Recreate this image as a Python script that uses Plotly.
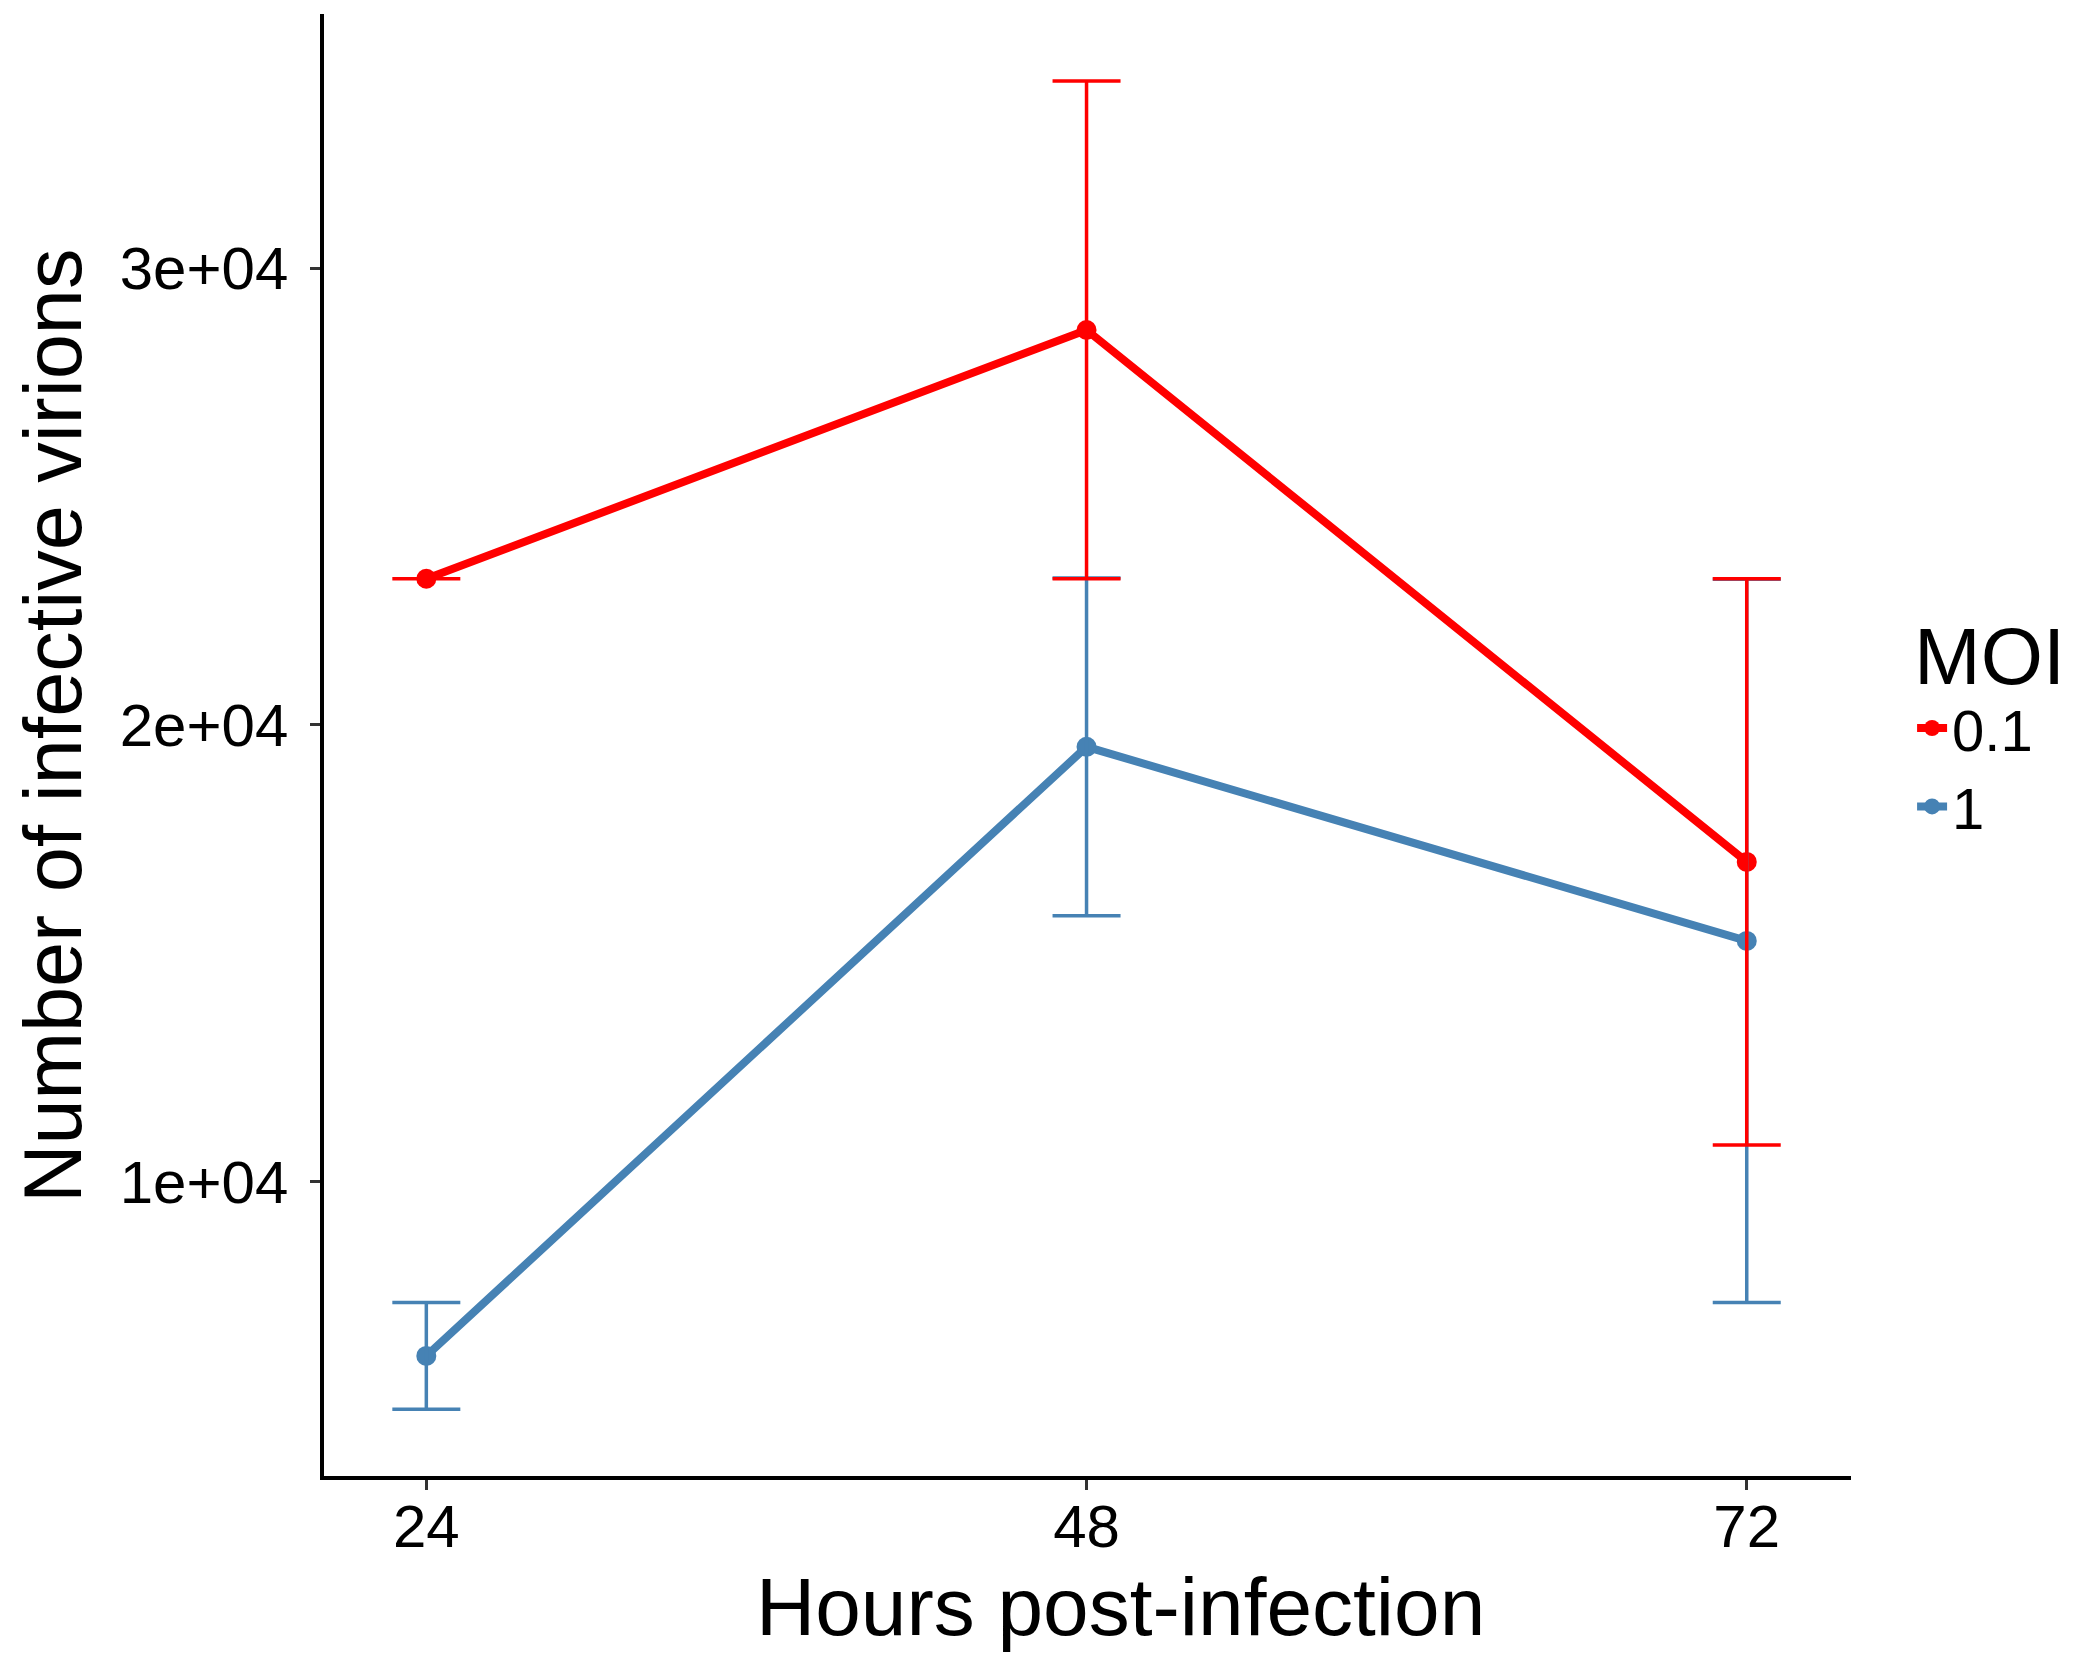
import plotly.graph_objects as go

hours = [24, 48, 72]
moi_levels = ["0.1", "1"]

# mean virions and error (half bar)
moi01_mean = [23200, 28650, 17000]
moi01_err = [0, 5450, 6200]
moi1_mean = [6180, 19520, 15270]
moi1_err = [1170, 3700, 7920]

y_ticks = [10000, 20000, 30000]
y_tick_labels = ["1e+04", "2e+04", "3e+04"]

colors = {"0.1": "#FF0000", "1": "#4682B4"}
means = {"0.1": moi01_mean, "1": moi1_mean}
errs = {"0.1": moi01_err, "1": moi1_err}

font = "Liberation Sans, Arial, sans-serif"

fig = go.Figure()

# lines and points first
for moi in moi_levels:
    fig.add_trace(go.Scatter(
        x=hours, y=means[moi], name=moi, mode="lines+markers",
        line=dict(color=colors[moi], width=8),
        marker=dict(color=colors[moi], size=20),
    ))

# error bars drawn on top, like the original
for moi in ["1", "0.1"]:
    fig.add_trace(go.Scatter(
        x=hours, y=means[moi], mode="markers", showlegend=False,
        marker=dict(color=colors[moi], size=1, opacity=0),
        error_y=dict(type="data", array=errs[moi], visible=True,
                     color=colors[moi], thickness=3.5, width=34),
        hoverinfo="skip",
    ))

fig.update_layout(
    width=2073, height=1667,
    paper_bgcolor="white", plot_bgcolor="white",
    margin=dict(l=316, r=230, t=6, b=199),
    font=dict(family=font, color="black", size=60),
    legend=dict(
        title=dict(text="MOI", font=dict(size=80)),
        font=dict(size=58),
        x=1.04, xanchor="left", y=0.613, yanchor="top",
        bgcolor="rgba(0,0,0,0)", tracegroupgap=0,
    ),
    annotations=[
        dict(text="Hours post-infection", font=dict(size=82),
             xref="paper", yref="paper", x=0.5213, y=-0.0896,
             xanchor="center", yanchor="middle", showarrow=False),
        dict(text="Number of infective virions", font=dict(size=81),
             textangle=-90, xref="paper", yref="paper", x=-0.1775, y=0.513,
             xanchor="center", yanchor="middle", showarrow=False),
    ],
)

fig.update_xaxes(
    range=[20.28, 75.79], tickvals=hours, ticktext=[str(h) for h in hours],
    showgrid=False, zeroline=False,
    showline=True, linecolor="black", linewidth=3.5,
    ticks="outside", ticklen=10, tickwidth=2.5, tickcolor="#333333",
    tickfont=dict(size=60, color="black"), ticklabelstandoff=-15,
)
fig.update_yaxes(
    range=[3550, 35570], tickvals=y_ticks, ticktext=y_tick_labels,
    showgrid=False, zeroline=False,
    showline=True, linecolor="black", linewidth=3.5,
    ticks="outside", ticklen=10, tickwidth=2.5, tickcolor="#333333",
    tickfont=dict(size=60, color="black"), ticklabelstandoff=10,
)

fig.write_html("out.html")
